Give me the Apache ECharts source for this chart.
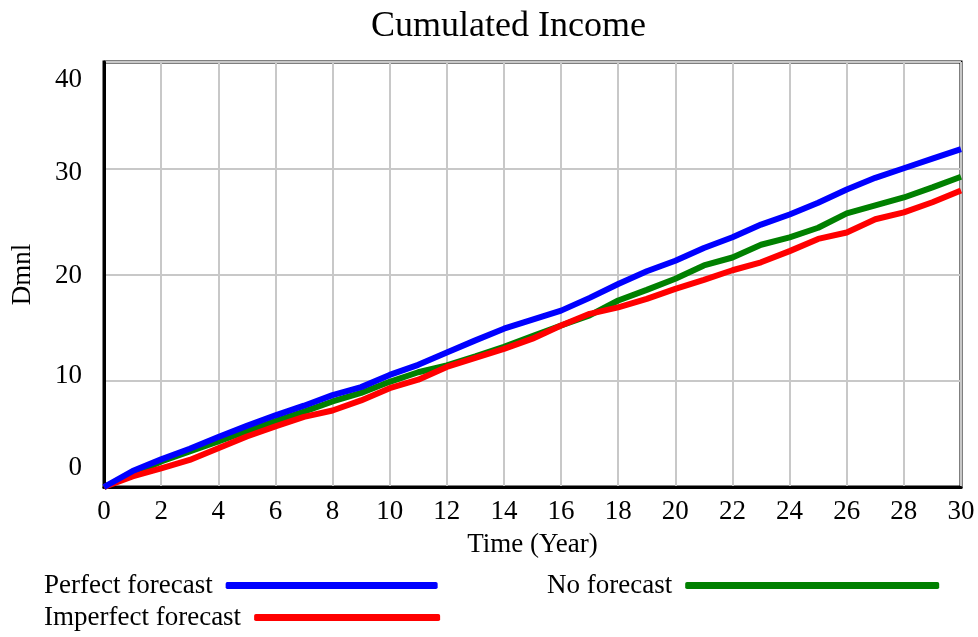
<!DOCTYPE html>
<html>
<head>
<meta charset="utf-8">
<script src="https://cdn.jsdelivr.net/npm/echarts@6/dist/echarts.min.js"></script>
<style>
html, body { margin: 0; padding: 0; background: #fff; }
#chart { width: 978px; height: 637px; }
</style>
</head>
<body>
<div id="chart"></div>
<script>
var years = [0,1,2,3,4,5,6,7,8,9,10,11,12,13,14,15,16,17,18,19,20,21,22,23,24,25,26,27,28,29,30];
var perfect = [0,1.5,2.6,3.6,4.7,5.75,6.75,7.65,8.65,9.4,10.55,11.5,12.65,13.8,14.9,15.75,16.6,17.8,19.1,20.3,21.3,22.5,23.5,24.7,25.65,26.75,28.0,29.1,30.0,30.9,31.8];
var noForecast = [0,1.2,2.4,3.35,4.3,5.25,6.2,7.1,8.05,8.85,9.9,10.8,11.45,12.3,13.2,14.2,15.2,16.15,17.55,18.55,19.6,20.85,21.6,22.8,23.5,24.4,25.75,26.5,27.25,28.2,29.2];
var imperfect = [0,1.0,1.75,2.55,3.65,4.75,5.7,6.6,7.2,8.15,9.3,10.1,11.3,12.15,13.0,13.96,15.2,16.3,16.9,17.7,18.65,19.5,20.4,21.15,22.2,23.35,23.95,25.2,25.85,26.8,27.9];
var yTicks = [0,10,20,30,40];

function pairs(vals) {
	return years.map(function (t, i) { return [t, vals[i]]; });
}

var font = 'Liberation Serif';
var fs = 27;
// vensim spreads the y labels evenly, not on the grid lines
var yShift = {0: -19, 10: -5, 20: 1, 30: 5, 40: 18};
var yRich = {};
yTicks.forEach(function (v) {
	var d = yShift[v];
	yRich['a' + v] = {
		fontFamily: font, fontSize: fs, color: '#000',
		padding: d >= 0 ? [2 * d, 0, 0, 0] : [0, 0, -2 * d, 0]
	};
});

var chart = echarts.init(document.getElementById('chart'));
var option = {
	animation: false,
	backgroundColor: '#fff',
	title: {
		text: 'Cumulated Income',
		left: 366,
		top: 4,
		textStyle: { fontFamily: font, fontSize: 36, fontWeight: 'normal', color: '#000' }
	},
	grid: {
		left: 104, right: 17, top: 62, bottom: 150,
		show: true, borderColor: '#000', borderWidth: 3
	},
	xAxis: {
		type: 'value', min: 0, max: 30, interval: 2,
		name: 'Time (Year)', nameLocation: 'middle', nameGap: 44,
		nameTextStyle: { fontFamily: font, fontSize: fs, color: '#000' },
		axisLine: { show: true, lineStyle: { color: '#000', width: 3 } },
		axisTick: { show: false },
		axisLabel: { fontFamily: font, fontSize: fs, color: '#000', margin: 11 },
		splitLine: { lineStyle: { color: '#c8c8c8', width: 2 } }
	},
	yAxis: {
		type: 'value', min: 0, max: 40, interval: 10,
		name: 'Dmnl', nameLocation: 'middle', nameGap: 68,
		nameTextStyle: { fontFamily: font, fontSize: fs, color: '#000' },
		axisLine: { show: true, lineStyle: { color: '#000', width: 3 } },
		axisTick: { show: false },
		axisLabel: {
			margin: 22,
			formatter: function (v) { return '{a' + v + '|' + v + '}'; },
			rich: yRich
		},
		splitLine: { lineStyle: { color: '#c8c8c8', width: 2 } }
	},
	legend: [
		{ data: ['Perfect forecast'], left: 44, top: 572, align: 'right', padding: 0,
		  itemWidth: 212, itemHeight: 7, icon: 'roundRect',
		  textStyle: { fontFamily: font, fontSize: fs, color: '#000', padding: [0, 8, 0, 0] } },
		{ data: ['No forecast'], left: 547, top: 572, align: 'right', padding: 0,
		  itemWidth: 254, itemHeight: 7, icon: 'roundRect',
		  textStyle: { fontFamily: font, fontSize: fs, color: '#000', padding: [0, 8, 0, 0] } },
		{ data: ['Imperfect forecast'], left: 44, top: 604, align: 'right', padding: 0,
		  itemWidth: 186, itemHeight: 7, icon: 'roundRect',
		  textStyle: { fontFamily: font, fontSize: fs, color: '#000', padding: [0, 8, 0, 0] } }
	],
	series: [
		{ name: 'No forecast', type: 'line', data: pairs(noForecast), showSymbol: false,
		  color: '#008000', lineStyle: { width: 6, color: '#008000' } },
		{ name: 'Imperfect forecast', type: 'line', data: pairs(imperfect), showSymbol: false,
		  color: '#ff0000', lineStyle: { width: 6, color: '#ff0000' } },
		{ name: 'Perfect forecast', type: 'line', data: pairs(perfect), showSymbol: false,
		  color: '#0000ff', lineStyle: { width: 6, color: '#0000ff' } }
	]
};
chart.setOption(option);
</script>
</body>
</html>
